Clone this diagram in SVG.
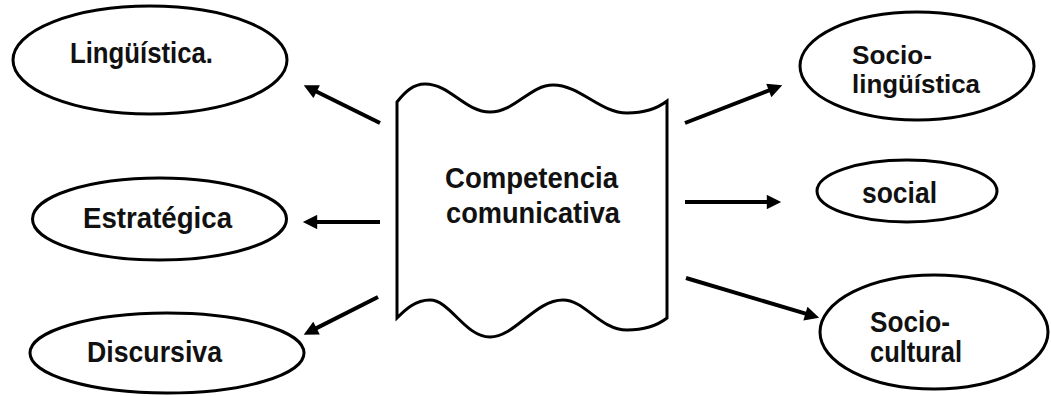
<svg xmlns="http://www.w3.org/2000/svg" width="1051" height="396" viewBox="0 0 1051 396">
<style>
.n{fill:#fff;stroke:#000;stroke-width:3}
.t{font-family:"Liberation Sans",Arial,sans-serif;font-weight:bold;font-size:29px;fill:#111}
.s{font-size:25.5px}
.c{fill:none;stroke:#000;stroke-width:4}
</style>
<defs>
<marker id="ah" viewBox="0 0 10 10" refX="5" refY="5" markerWidth="4" markerHeight="3.6" orient="auto" markerUnits="strokeWidth">
<path d="M0,0 L10,5 L0,10 z" fill="#000"/>
</marker>
</defs>
<rect width="1051" height="396" fill="#fff"/>
<g id="connectors">
<line class="c" x1="380" y1="123" x2="310.2" y2="88.5" marker-end="url(#ah)"/>
<line class="c" x1="380" y1="222" x2="310" y2="222" marker-end="url(#ah)"/>
<line class="c" x1="378" y1="297" x2="310.1" y2="331.4" marker-end="url(#ah)"/>
<line class="c" x1="685" y1="123" x2="775.5" y2="87.9" marker-end="url(#ah)"/>
<line class="c" x1="685" y1="202" x2="774" y2="202" marker-end="url(#ah)"/>
<line class="c" x1="686" y1="278" x2="812.3" y2="315.7" marker-end="url(#ah)"/>
</g>
<g id="competencia">
<path class="n" d="M397,102 C405,92 413,84 425,84 C450,84 465,112 490,112 C515,112 530,85 553,85 C580,85 600,113 627,113 C645,113 658,108 667,101 L667,318 C658,325 645,330 627,330 C600,330 585,300 563,300 C535,300 515,337 490,337 C465,337 450,300 430,300 C415,300 405,310 397,318 Z"/>
<text class="t" x="445" y="188" textLength="173" lengthAdjust="spacingAndGlyphs">Competencia</text>
<text class="t" x="446" y="223" textLength="174" lengthAdjust="spacingAndGlyphs">comunicativa</text>
</g>
<g id="linguistica">
<ellipse class="n" cx="150" cy="60" rx="137" ry="54"/>
<text class="t" x="70" y="63" textLength="143" lengthAdjust="spacingAndGlyphs">Lingüística.</text>
</g>
<g id="estrategica">
<ellipse class="n" cx="159.5" cy="219" rx="127" ry="41"/>
<text class="t" x="83" y="228" textLength="149" lengthAdjust="spacingAndGlyphs">Estratégica</text>
</g>
<g id="discursiva">
<ellipse class="n" cx="167" cy="353" rx="137" ry="40"/>
<text class="t" x="87" y="362" textLength="135" lengthAdjust="spacingAndGlyphs">Discursiva</text>
</g>
<g id="sociolinguistica">
<ellipse class="n" cx="917" cy="66" rx="117" ry="54"/>
<text class="t s" x="852" y="64" textLength="80" lengthAdjust="spacingAndGlyphs">Socio-</text>
<text class="t s" x="852" y="93" textLength="128" lengthAdjust="spacingAndGlyphs">lingüística</text>
</g>
<g id="social">
<ellipse class="n" cx="907" cy="191" rx="90" ry="31"/>
<text class="t" x="862" y="203" textLength="75" lengthAdjust="spacingAndGlyphs">social</text>
</g>
<g id="sociocultural">
<ellipse class="n" cx="934" cy="332" rx="114" ry="57"/>
<text class="t" x="870" y="332" textLength="80" lengthAdjust="spacingAndGlyphs">Socio-</text>
<text class="t" x="870" y="362" textLength="92" lengthAdjust="spacingAndGlyphs">cultural</text>
</g>
</svg>
